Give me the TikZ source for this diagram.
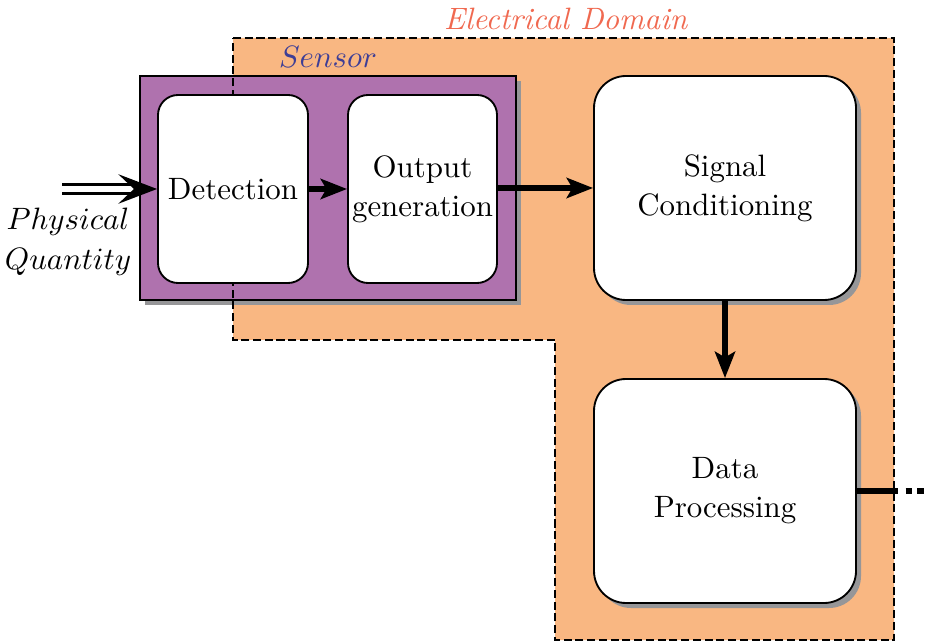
\documentclass[tikz,border=0pt]{standalone}
\usetikzlibrary{arrows.meta,shadows}
\definecolor{domainfill}{RGB}{249,183,130}
\definecolor{sensorfill}{RGB}{175,114,174}
\definecolor{domaintext}{RGB}{240,105,80}
\definecolor{sensortext}{RGB}{62,62,150}
\definecolor{shadowgray}{RGB}{150,150,152}
\newdimen\px \px=0.3236pt
\tikzset{
  x=\px, y=-\px,
  boxshadow/.style={drop shadow={shadow xshift=5\px, shadow yshift=-5\px, fill=shadowgray, opacity=1}},
  stage/.style={draw, semithick, fill=white, rounded corners=20\px, align=center,
    inner sep=0pt, font=\fontsize{10}{12.6}\selectfont},
  bigstage/.style={stage, rounded corners=32\px, minimum width=262\px, minimum height=224\px, boxshadow},
  flow/.style={line width=2pt, -{Stealth[length=8.5pt, width=6.5pt, inset=1.8pt]}},
  domainline/.style={line width=0.6pt, dash pattern=on 2.6pt off 1.2pt},
}
\begin{document}
\begin{tikzpicture}
\useasboundingbox (0,0) rectangle (928,643);

% electrical domain area
\fill[domainfill] (233,38) -- (894,38) -- (894,640) -- (555,640) -- (555,340) -- (233,340) -- cycle;

% sensor housing
\node[draw, semithick, fill=sensorfill, boxshadow, minimum width=376\px, minimum height=224\px, inner sep=0pt]
  (sensor) at (328,188) {};
\node[text=sensortext] (sensorlabel) at (328,57) {$Sensor$};

% outline of the electrical domain
\draw[domainline] (233,38) -- (894,38) -- (894,640) -- (555,640) -- (555,340) -- (233,340) -- cycle;
\node[text=domaintext] (domainlabel) at (566,19) {\textit{Electrical Domain}};

% processing stages
\node[stage, minimum width=150\px, minimum height=188\px] (det) at (233,189) {Detection};
\node[stage, minimum width=149\px, minimum height=188\px] (out) at (422.5,189) {Output\\generation};
\node[bigstage] (sig) at (725,188) {Signal\\Conditioning};
\node[bigstage] (dat) at (725,491) {Data\\Processing};

% physical input
\coordinate (pqin) at (62,189);
\node[align=center, font=\fontsize{10}{13}\selectfont] (pq) at (68,242) {$Physical$\\$Quantity$};
\draw[line width=1.1pt, double distance=1.7pt, -{Stealth[length=12.5pt, width=9.5pt, inset=5pt]}] (pqin) -- (det.west);

% signal path
\draw[flow] (det.east) -- (out.west);
\draw[flow] (out.east |- 0,188) -- (sig.west);
\draw[flow] (sig.south) -- (dat.north);

% continuation to further stages
\coordinate (edge) at (898,491);
\coordinate (tail) at (928,491);
\draw[line width=2pt] (dat.east) -- (edge);
\draw[line width=2pt, dash pattern=on 2pt off 1.8pt] (edge) ++(2.5pt,0) -- (tail);
\end{tikzpicture}
\end{document}
